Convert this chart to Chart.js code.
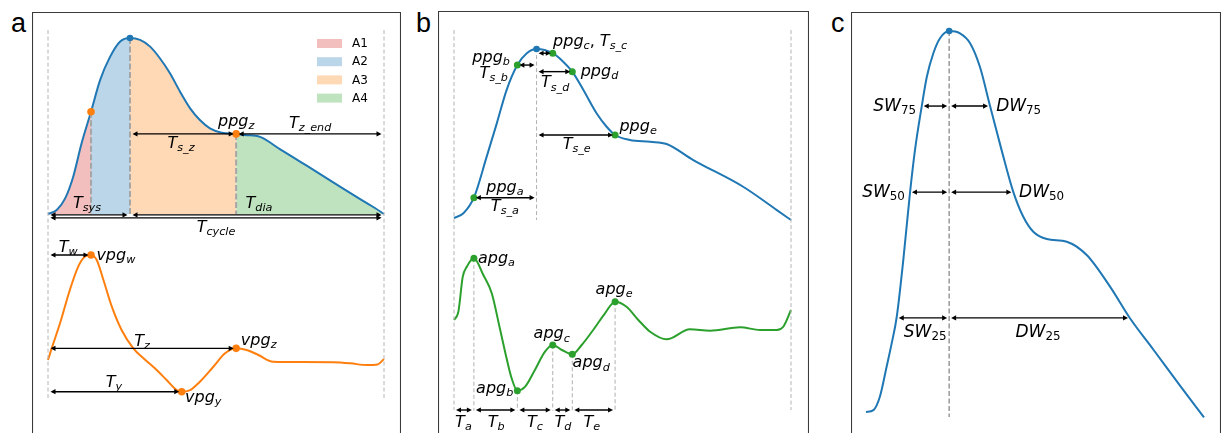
<!DOCTYPE html>
<html><head><meta charset="utf-8">
<script src="https://cdn.jsdelivr.net/npm/chart.js@4.4.0/dist/chart.umd.min.js"></script>
<style>
html,body{margin:0;padding:0;background:#fff;overflow:hidden;width:1226px;height:433px;position:relative;}
canvas{position:absolute;}
.pl{position:absolute;font-family:"Liberation Sans",Arial,sans-serif;font-size:27px;line-height:27px;color:#000;}
</style></head><body>
<div class="pl" style="left:11px;top:10px">a</div>
<div class="pl" style="left:416px;top:10px">b</div>
<div class="pl" style="left:831px;top:10px">c</div>
<canvas id="ca" width="369" height="440" style="left:32px;top:12px"></canvas>
<canvas id="cb" width="371" height="440" style="left:438px;top:11px"></canvas>
<canvas id="cc" width="370" height="440" style="left:851px;top:12px"></canvas>
<script>
// ---------------- DATA (time in % of one cardiac cycle, normalised amplitude) ----------------
// Panel a: PPG pulse
const ppgA_time = [0,2.6,5.1,7.5,10.0,12.8,15.5,18.5,21.4,24.4,27.4,30.4,33.3,36.3,39.3,42.3,45.2,48.2,51.7,56.0,58.6,63.1,69.0,75.0,81.0,86.9,92.9,97.3,100];
const ppgA_amp  = [0,0.023,0.089,0.212,0.402,0.581,0.761,0.894,0.979,1.0,0.989,0.951,0.885,0.8,0.695,0.6,0.534,0.487,0.462,0.455,0.449,0.438,0.369,0.298,0.227,0.156,0.085,0.034,0];
// Panel a: VPG (first derivative)
const vpgA_time = [0,1.1,3.6,6.5,9.0,11.0,12.8,14.5,16.5,19.0,21.9,25.4,28.4,31.8,35.3,38.3,39.8,42.3,45.2,49.2,52.7,56.0,59.1,62.6,67.0,75.0,84.8,90.0,94.9,98.1,100];
const vpgA_amp  = [0,0.111,0.352,0.667,0.889,0.985,1.0,0.952,0.762,0.508,0.286,0.111,0.016,-0.079,-0.19,-0.286,-0.302,-0.286,-0.207,-0.064,0.064,0.111,0.095,0.048,-0.017,-0.02,-0.022,-0.032,-0.048,-0.042,0.01];
// Area split points (A1..A4) and their names
const areaEdges  = [0,12.8,24.4,56.0,100];
const areaLabels = ['A1','A2','A3','A4'];
// Panel a fiducial times
const ppgA_marks = {half:12.8, peak:24.4, z:56.0};
const vpgA_marks = {w:12.8, y:39.8, z:56.0};

// Panel b: PPG pulse and APG (second derivative)
const ppgB_time = [0,2.8,5.9,9.7,12.7,15.6,18.8,21.6,24.5,29.3,32.4,35.1,38.4,42.3,45.3,47.8,52.2,58.2,63.1,71.0,85.8,95.8,100];
const ppgB_amp  = [0,0.028,0.12,0.363,0.56,0.757,0.905,0.975,1.0,0.975,0.925,0.866,0.757,0.62,0.54,0.491,0.462,0.451,0.438,0.343,0.185,0.047,-0.012];
const apgB_time = [0,1.3,2.6,3.8,5.9,8.7,11.2,13.6,15.6,17.1,18.8,21.1,24.0,27.0,29.3,32.0,35.1,37.9,41.3,44.8,47.8,51.2,54.7,58.2,63.1,70.0,76.0,84.9,90.8,95.8,97.7,100];
const apgB_amp  = [0,0.135,0.702,0.864,1.0,0.729,0.433,-0.135,-0.621,-0.945,-1.146,-1.081,-0.81,-0.514,-0.405,-0.486,-0.556,-0.405,-0.162,0.109,0.297,0.216,0,-0.19,-0.313,-0.151,-0.173,-0.118,-0.162,-0.162,-0.109,0.162];
const ppgB_peak  = 24.5;
const fidNames   = ['a','b','c','d','e'];
const fidTimesB  = [5.9,18.8,29.3,35.1,47.8];

// Panel c: PPG pulse with pulse widths
const ppgC_time = [0,2.2,4.1,6.1,7.6,9.1,11.0,13.0,14.5,16.5,18.0,19.9,21.9,24.6,27.8,30.8,33.7,36.7,40.1,43.6,46.5,49.5,53.5,59.4,65.3,72.2,78.1,85.0,92.9,100];
const ppgC_amp  = [0,0.005,0.04,0.119,0.18,0.25,0.396,0.574,0.688,0.803,0.88,0.941,0.981,1.0,0.994,0.968,0.906,0.803,0.688,0.577,0.513,0.473,0.454,0.447,0.412,0.329,0.246,0.164,0.069,-0.014];
const ppgC_peak   = 24.6;
const widthLevels = ['75','50','25'];
const widthAmp    = [0.803,0.577,0.247];
const widthLeftT  = [16.5,13.0,9.1];
const widthRightT = [36.7,43.6,78.1];

// ---------------- STYLE ----------------
const BLUE='#1f77b4', ORANGE='#ff7f0e', GREEN='#2ca02c';
const areaColors=['rgba(214,39,40,0.3)','rgba(31,119,180,0.3)','rgba(255,127,14,0.3)','rgba(44,160,44,0.3)'];
const VSTYLE={
  outer:{c:'#b4b4b4',w:1,d:[4,2.5]},
  inner:{c:'#a6a6a6',w:2,d:[6,2.5]},
  thin:{c:'#b0b0b0',w:1,d:[4,2.5]},
  peakc:{c:'#8a8a8a',w:1.3,d:[5,2.5]}
};

// ---------------- helpers ----------------
function valueAt(ts,vs,t){
  for(let i=0;i<ts.length;i++){ if(Math.abs(ts[i]-t)<1e-9) return vs[i]; }
  for(let i=0;i<ts.length-1;i++){ if(t>=ts[i]&&t<=ts[i+1]) return vs[i]+(vs[i+1]-vs[i])*(t-ts[i])/(ts[i+1]-ts[i]); }
  return 0;
}
function pts(ts,vs){ return ts.map((t,i)=>({x:t,y:vs[i]})); }
function rangeFor(v0,p0,v1,p1,size){ const k=(p1-p0)/(v1-v0); const a=v0-p0/k, b=v0+(size-p0)/k; return [Math.min(a,b),Math.max(a,b)]; }

function runsOf(text,sub){
  const out=[];
  for(const ch of text){
    const it=/[A-Za-z]/.test(ch);
    const last=out[out.length-1];
    if(last&&last.it===it) last.s+=ch; else out.push({s:ch,it,sub});
  }
  return out;
}
function fontFor(r,size){ const sz=r.sub?size*0.7:size; return (r.it?'italic ':'')+sz.toFixed(1)+'px "DejaVu Sans"'; }
function drawMath(ctx,pairs,x,y,align,size){
  let rs=[];
  pairs.forEach(([m,s])=>{ rs=rs.concat(runsOf(m,false)); if(s) rs=rs.concat(runsOf(s,true)); });
  let w=0;
  rs.forEach(r=>{ ctx.font=fontFor(r,size); r.w=ctx.measureText(r.s).width; w+=r.w; });
  let cx=align==='center'?x-w/2:align==='right'?x-w:x;
  ctx.textAlign='left'; ctx.textBaseline='alphabetic'; ctx.fillStyle='#000';
  rs.forEach(r=>{ ctx.font=fontFor(r,size); ctx.fillText(r.s,cx,y+(r.sub?size*0.2:0)); cx+=r.w; });
}
function drawArrow(chart,a){
  const ctx=chart.ctx, xs=chart.scales.x, ys=chart.scales[a.axis||'y'];
  const sh=a.shrink==null?2.5:a.shrink;
  const p0=xs.getPixelForValue(a.x0)+sh, p1=xs.getPixelForValue(a.x1)-sh, py=ys.getPixelForValue(a.y);
  const L=5, H=2.6;
  ctx.save();
  ctx.strokeStyle='#000'; ctx.fillStyle='#000'; ctx.lineWidth=1.4; ctx.setLineDash([]);
  ctx.beginPath(); ctx.moveTo(p0+2,py); ctx.lineTo(p1-2,py); ctx.stroke();
  ctx.beginPath(); ctx.moveTo(p0,py); ctx.lineTo(p0+L,py-H); ctx.lineTo(p0+L,py+H); ctx.closePath(); ctx.fill();
  ctx.beginPath(); ctx.moveTo(p1,py); ctx.lineTo(p1-L,py-H); ctx.lineTo(p1-L,py+H); ctx.closePath(); ctx.fill();
  ctx.restore();
}
function drawVlines(chart,list){
  const ctx=chart.ctx, xs=chart.scales.x;
  list.forEach(v=>{
    const ys=chart.scales[v.axis||'y'], st=VSTYLE[v.s];
    const px=xs.getPixelForValue(v.x);
    ctx.save(); ctx.strokeStyle=st.c; ctx.lineWidth=st.w; ctx.setLineDash(st.d);
    ctx.beginPath(); ctx.moveTo(px,ys.getPixelForValue(v.y0)); ctx.lineTo(px,ys.getPixelForValue(v.y1)); ctx.stroke();
    ctx.restore();
  });
}
function annotPlugin(spec){
  return {
    id:'annot',
    afterDatasetDraw(chart,args){ if(args.index===spec.vlineAfter) drawVlines(chart,spec.vlines); },
    afterDatasetsDraw(chart){
      const ctx=chart.ctx;
      spec.arrows.forEach(a=>drawArrow(chart,a));
      spec.labels.forEach(l=>{
        const px=chart.scales.x.getPixelForValue(l.x), py=chart.scales[l.axis||'y'].getPixelForValue(l.y);
        drawMath(ctx,l.t,px,py,l.al||'center',spec.fs);
      });
      if(spec.legend) spec.legend(ctx);
      // frame (top, left, right spines)
      const W=chart.width, Hh=chart.height;
      ctx.save(); ctx.strokeStyle='#3a3a3a'; ctx.lineWidth=1.1; ctx.setLineDash([]);
      ctx.beginPath(); ctx.moveTo(0.5,Hh+5); ctx.lineTo(0.5,0.5); ctx.lineTo(W-0.5,0.5); ctx.lineTo(W-0.5,Hh+5); ctx.stroke();
      ctx.restore();
    }
  };
}
function curve(ts,vs,color,axis,extra){
  return Object.assign({data:pts(ts,vs),yAxisID:axis,borderColor:color,borderWidth:2,pointRadius:0,
    cubicInterpolationMode:'monotone',fill:false,showLine:true},extra||{});
}
function marks(list,axis){
  return {data:list.map(m=>({x:m.x,y:m.y})),yAxisID:axis,showLine:false,pointRadius:list.map(m=>m.r),
    pointHoverRadius:0,pointBackgroundColor:list.map(m=>m.c),pointBorderWidth:0,borderWidth:0};
}
function makeChart(id,xr,yranges,datasets,spec){
  const scales={x:{type:'linear',display:false,min:xr[0],max:xr[1],bounds:'data',offset:false}};
  Object.keys(yranges).forEach(k=>{ scales[k]={type:'linear',display:false,min:yranges[k][0],max:yranges[k][1],bounds:'data'}; });
  return new Chart(document.getElementById(id),{
    type:'line',
    data:{datasets},
    options:{responsive:false,animation:false,devicePixelRatio:1,events:[],
      layout:{padding:0,autoPadding:false},scales,
      plugins:{legend:{display:false},tooltip:{enabled:false},title:{display:false}}},
    plugins:[annotPlugin(spec)]
  });
}

// ---------------- PANEL A ----------------
(function(){
  const H=440;
  const xr=rangeFor(0,16,100,352,369);
  const yr={y:rangeFor(0,202,1,26,H), y2:rangeFor(0,348,1,243,H)};
  const pv=t=>valueAt(ppgA_time,ppgA_amp,t), vv=t=>valueAt(vpgA_time,vpgA_amp,t);
  const areaIdx=t=>{ for(let i=0;i<areaEdges.length-1;i++){ if(t<areaEdges[i+1]) return i; } return areaEdges.length-2; };
  const ds=[
    marks([{x:ppgA_marks.peak,y:pv(ppgA_marks.peak),r:3.3,c:BLUE},{x:ppgA_marks.half,y:pv(ppgA_marks.half),r:3.8,c:ORANGE},{x:ppgA_marks.z,y:pv(ppgA_marks.z),r:3.8,c:ORANGE}],'y'),
    marks([{x:vpgA_marks.w,y:vv(vpgA_marks.w),r:3.8,c:ORANGE},{x:vpgA_marks.y,y:vv(vpgA_marks.y),r:3.8,c:ORANGE},{x:vpgA_marks.z,y:vv(vpgA_marks.z),r:3.8,c:ORANGE}],'y2'),
    curve(ppgA_time,ppgA_amp,BLUE,'y',{fill:'origin',backgroundColor:areaColors[0],
      segment:{backgroundColor:c=>areaColors[areaIdx(ppgA_time[c.p0DataIndex])]}}),
    curve(vpgA_time,vpgA_amp,ORANGE,'y2')
  ];
  const spec={fs:16,vlineAfter:2,
    vlines:[{x:0,y0:1.045,y1:-1.045,s:'outer'},{x:100,y0:1.045,y1:-1.045,s:'outer'},
      {x:areaEdges[1],y0:pv(areaEdges[1]),y1:0,s:'inner'},{x:areaEdges[2],y0:pv(areaEdges[2]),y1:0,s:'inner'},{x:areaEdges[3],y0:pv(areaEdges[3]),y1:0,s:'inner'}],
    arrows:[
      {x0:0,x1:ppgA_marks.peak,y:-0.005},{x0:ppgA_marks.peak,x1:100,y:-0.005},{x0:0,x1:100,y:-0.022},
      {x0:ppgA_marks.peak,x1:ppgA_marks.z,y:pv(ppgA_marks.z)},{x0:ppgA_marks.z,x1:100,y:pv(ppgA_marks.z)},
      {x0:0,x1:vpgA_marks.w,y:vv(vpgA_marks.w),axis:'y2'},
      {x0:0,x1:vpgA_marks.z,y:vv(vpgA_marks.z),axis:'y2'},
      {x0:0,x1:vpgA_marks.y,y:vv(vpgA_marks.y),axis:'y2'}
    ],
    labels:[
      {t:[['ppg','z']],x:56,y:0.5},
      {t:[['T','z_end']],x:78,y:0.489},
      {t:[['T','s_z']],x:39.6,y:0.375},
      {t:[['T','sys']],x:11.6,y:0.034},
      {t:[['T','dia']],x:62.8,y:0.034},
      {t:[['T','cycle']],x:50,y:-0.102},
      {t:[['T','w']],x:6.0,y:1.029,axis:'y2'},
      {t:[['vpg','w']],x:14.4,y:0.952,axis:'y2',al:'left'},
      {t:[['T','z']],x:28.0,y:0.133,axis:'y2'},
      {t:[['vpg','z']],x:57.4,y:0.143,axis:'y2',al:'left'},
      {t:[['T','y']],x:19.6,y:-0.257,axis:'y2'},
      {t:[['vpg','y']],x:40.8,y:-0.40,axis:'y2',al:'left'}
    ],
    legend:function(ctx){
      ctx.save();
      areaLabels.forEach((n,i)=>{
        const cy=31.5+i*18.2;
        ctx.fillStyle=areaColors[i]; ctx.fillRect(285,cy-4.5,25,9);
        ctx.fillStyle='#000'; ctx.font='12px "DejaVu Sans"'; ctx.textBaseline='middle'; ctx.textAlign='left';
        ctx.fillText(n,320,cy+0.5);
      });
      ctx.restore();
    }
  };
  makeChart('ca',xr,yr,ds,spec);
})();

// ---------------- PANEL B ----------------
(function(){
  const H=440;
  const xr=rangeFor(0,16,100,353,371);
  const yr={y:rangeFor(0,207,1,38,H), y2:rangeFor(0,309,1,247.3,H)};
  const pv=t=>valueAt(ppgB_time,ppgB_amp,t), av=t=>valueAt(apgB_time,apgB_amp,t);
  const ds=[
    marks([{x:ppgB_peak,y:pv(ppgB_peak),r:3.3,c:BLUE}].concat(fidTimesB.map(t=>({x:t,y:pv(t),r:3.5,c:GREEN}))),'y'),
    marks(fidTimesB.map(t=>({x:t,y:av(t),r:3.5,c:GREEN})),'y2'),
    curve(ppgB_time,ppgB_amp,BLUE,'y'),
    curve(apgB_time,apgB_amp,GREEN,'y2')
  ];
  const vl=[{x:0,y0:1.112,y1:-1.136,s:'outer'},{x:100,y0:1.112,y1:-1.136,s:'outer'},{x:ppgB_peak,y0:0.964,y1:-0.012,s:'thin'}]
    .concat(fidTimesB.map(t=>({x:t,y0:av(t),y1:-1.47,axis:'y2',s:'thin'})));
  const arr=fidTimesB.map(t=> t<ppgB_peak?{x0:t,x1:ppgB_peak,y:pv(t),shrink:2}:{x0:ppgB_peak,x1:t,y:pv(t),shrink:2});
  const bounds=[0].concat(fidTimesB);
  for(let i=0;i<fidTimesB.length;i++) arr.push({x0:bounds[i],x1:bounds[i+1],y:-1.459,axis:'y2',shrink:2});
  const tCent=[2.8,12.5,24.0,32.3,40.9];
  const labels=[
    {t:[['ppg','a']],x:15.1,y:0.154},
    {t:[['T','s_a']],x:15.1,y:0.041},
    {t:[['ppg','b']],x:16.6,y:0.925,al:'right'},
    {t:[['T','s_b']],x:16.0,y:0.828,al:'right'},
    {t:[['ppg','c'],[', T','s_c']],x:29.4,y:1.02,al:'left'},
    {t:[['ppg','d']],x:37.6,y:0.84,al:'left'},
    {t:[['T','s_d']],x:30.0,y:0.773},
    {t:[['ppg','e']],x:49.1,y:0.517,al:'left'},
    {t:[['T','s_e']],x:36.4,y:0.408},
    {t:[['apg','a']],x:7.1,y:0.919,axis:'y2',al:'left'},
    {t:[['apg','b']],x:17.6,y:-1.188,axis:'y2',al:'right'},
    {t:[['apg','c']],x:29.0,y:-0.297,axis:'y2'},
    {t:[['apg','d']],x:35.2,y:-0.767,axis:'y2',al:'left'},
    {t:[['apg','e']],x:47.5,y:0.421,axis:'y2'}
  ].concat(fidNames.map((n,i)=>({t:[['T',n]],x:tCent[i],y:-1.729,axis:'y2'})));
  makeChart('cb',xr,yr,ds,{fs:16,vlineAfter:2,vlines:vl,arrows:arr,labels});
})();

// ---------------- PANEL C ----------------
(function(){
  const H=440;
  const xr=rangeFor(0,15,100,353,370);
  const yr={y:rangeFor(0,400,1,19,H)};
  const pv=t=>valueAt(ppgC_time,ppgC_amp,t);
  const ds=[
    marks([{x:ppgC_peak,y:pv(ppgC_peak),r:3.3,c:BLUE}],'y'),
    curve(ppgC_time,ppgC_amp,BLUE,'y')
  ];
  const arr=[];
  widthLevels.forEach((l,i)=>{
    arr.push({x0:widthLeftT[i],x1:ppgC_peak,y:widthAmp[i],shrink:2});
    arr.push({x0:ppgC_peak,x1:widthRightT[i],y:widthAmp[i],shrink:2});
  });
  const labels=[
    {t:[['SW',widthLevels[0]]],x:14.8,y:0.79,al:'right'},
    {t:[['DW',widthLevels[0]]],x:38.5,y:0.79,al:'left'},
    {t:[['SW',widthLevels[1]]],x:11.5,y:0.565,al:'right'},
    {t:[['DW',widthLevels[1]]],x:45.3,y:0.565,al:'left'},
    {t:[['SW',widthLevels[2]]],x:17.5,y:0.197},
    {t:[['DW',widthLevels[2]]],x:50.9,y:0.197}
  ];
  makeChart('cc',xr,yr,ds,{fs:17,vlineAfter:1,vlines:[{x:ppgC_peak,y0:pv(ppgC_peak),y1:-0.013,s:'peakc'}],arrows:arr,labels});
})();
</script>
</body></html>
